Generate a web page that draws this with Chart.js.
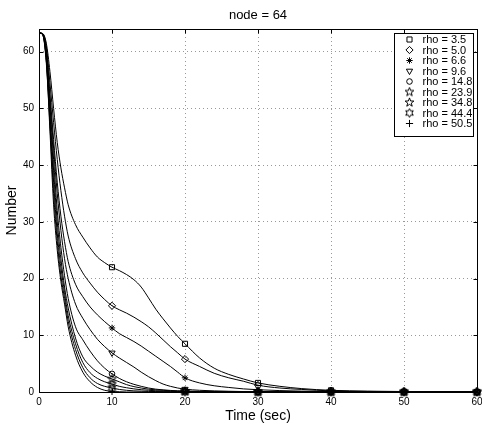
<!DOCTYPE html>
<html>
<head>
<meta charset="utf-8">
<script src="https://cdn.jsdelivr.net/npm/chart.js@4.4.1/dist/chart.umd.min.js"></script>
<style>
  html, body { margin: 0; padding: 0; background: #fff; }
  canvas { display: block; }
</style>
</head>
<body>
<canvas id="decayChart" width="482" height="425"></canvas>
<script>
// Data
const timeSec = [0, 0.5, 1, 1.5, 2, 2.5, 3, 3.5, 4, 5, 6, 7, 8, 9, 10, 11, 12, 13, 14, 15, 16, 17, 18, 19, 20, 22, 24, 26, 28, 30, 33, 36, 40, 45, 50, 55, 60];

const rho35  = [63.3, 63.2, 61.5, 56.5, 50, 44, 39.5, 36, 33, 29.5, 27.3, 25.4, 23.8, 22.8, 22.0, 21.4, 20.7, 19.8, 18.5, 16.6, 14.6, 12.9, 11.3, 9.8, 8.5, 6.0, 4.2, 3.1, 2.3, 1.6, 1.0, 0.6, 0.3, 0.15, 0.08, 0.04, 0.02];
const rho50  = [63.3, 63.2, 61, 54.5, 47.5, 41, 35.5, 31, 27.5, 23.5, 21, 19.2, 17.6, 16.3, 15.2, 14.5, 13.9, 13.2, 12.4, 11.5, 10.4, 9.2, 8.0, 6.9, 5.8, 4.5, 3.3, 2.5, 1.9, 1.2, 0.7, 0.45, 0.2, 0.1, 0.05, 0.02, 0];
const rho66  = [63.3, 63.1, 60.5, 52.5, 44.5, 37, 31, 26.5, 23, 19, 16.8, 15, 13.6, 12.4, 11.3, 10.3, 9.6, 8.9, 8.1, 7.2, 6.3, 5.4, 4.5, 3.5, 2.5, 1.6, 1.1, 0.8, 0.55, 0.4, 0.25, 0.15, 0.1, 0.05, 0.02, 0.01, 0];
const rho96  = [63.3, 63.1, 60, 51.5, 43, 35, 28.5, 23.5, 20, 15.5, 13, 11, 9.3, 8.0, 6.9, 6.0, 5.2, 4.4, 3.5, 2.7, 2.0, 1.4, 1.0, 0.7, 0.5, 0.3, 0.2, 0.13, 0.08, 0.05, 0.03, 0.02, 0.01, 0, 0, 0, 0];
const rho148 = [63.3, 63.1, 59.5, 50.5, 41, 32, 25.5, 20.5, 16.5, 11.5, 9.2, 7.2, 5.5, 4.2, 3.2, 2.4, 1.8, 1.35, 1.0, 0.7, 0.5, 0.38, 0.28, 0.2, 0.15, 0.1, 0.07, 0.05, 0.03, 0.02, 0.01, 0, 0, 0, 0, 0, 0];
const rho239 = [63.3, 63.1, 59, 49, 39, 30, 23.5, 18.5, 14.8, 9.5, 6.2, 4.6, 3.5, 2.8, 2.3, 1.8, 1.3, 0.95, 0.7, 0.5, 0.38, 0.3, 0.22, 0.17, 0.13, 0.08, 0.05, 0.03, 0.02, 0.01, 0, 0, 0, 0, 0, 0, 0];
const rho348 = [63.3, 63, 58.5, 48, 37, 28, 22, 17.5, 13.5, 8.5, 5.2, 3.4, 2.4, 1.8, 1.4, 1.0, 0.75, 0.55, 0.4, 0.3, 0.22, 0.17, 0.13, 0.1, 0.08, 0.05, 0.03, 0.02, 0.01, 0, 0, 0, 0, 0, 0, 0, 0];
const rho444 = [63.3, 63, 58, 47, 35, 26.5, 20.5, 16.5, 12.5, 7.5, 4.3, 2.5, 1.5, 1.0, 0.7, 0.45, 0.3, 0.2, 0.15, 0.1, 0.08, 0.06, 0.05, 0.04, 0.03, 0.02, 0.01, 0, 0, 0, 0, 0, 0, 0, 0, 0, 0];
const rho505 = [63.3, 63, 58.5, 46, 33, 25, 19.5, 15.5, 11.5, 6.5, 3.5, 1.8, 0.8, 0.3, 0.1, 0.05, 0, 0, 0, 0, 0, 0, 0, 0, 0, 0, 0, 0, 0, 0, 0, 0, 0, 0, 0, 0, 0];

const seriesLabels = ['rho = 3.5', 'rho = 5.0', 'rho = 6.6', 'rho = 9.6', 'rho = 14.8', 'rho = 23.9', 'rho = 34.8', 'rho = 44.4', 'rho = 50.5'];
const seriesValues = [rho35, rho50, rho66, rho96, rho148, rho239, rho348, rho444, rho505];
const xTicks = [0, 10, 20, 30, 40, 50, 60];
const yTicks = [0, 10, 20, 30, 40, 50, 60];

const FONT = '"Liberation Sans", Arial, Helvetica, sans-serif';

// star-shaped markers (matlab 'p' and 'h') drawn on small canvases
function starMarker(points, outer, inner) {
    const c = document.createElement('canvas');
    c.width = 11; c.height = 11;
    const g = c.getContext('2d');
    g.strokeStyle = '#000';
    g.lineWidth = 1;
    g.beginPath();
    for (let i = 0; i < points * 2; i++) {
        const r = i % 2 === 0 ? outer : inner;
        const a = -Math.PI / 2 + i * Math.PI / points;
        const x = 5.5 + r * Math.cos(a), y = 5.5 + r * Math.sin(a);
        if (i === 0) g.moveTo(x, y); else g.lineTo(x, y);
    }
    g.closePath();
    g.stroke();
    return c;
}
const pentagram = starMarker(5, 4.6, 1.9);
const hexagram = starMarker(6, 4.4, 2.4);

const markers = [
    { style: 'rect', r: 3.6, rot: 0 },
    { style: 'rectRot', r: 3.6, rot: 0 },
    { style: 'star', r: 3.2, rot: 0 },
    { style: 'triangle', r: 3.6, rot: 180 },
    { style: 'circle', r: 2.8, rot: 0 },
    { style: pentagram, r: 3, rot: 0 },
    { style: pentagram, r: 3, rot: 0 },
    { style: hexagram, r: 3, rot: 0 },
    { style: 'cross', r: 3.6, rot: 0 }
];

const datasets = seriesValues.map((vals, i) => ({
    label: seriesLabels[i],
    data: vals.map((v, k) => ({ x: timeSec[k], y: v })),
    borderColor: '#000',
    borderWidth: 1,
    backgroundColor: 'rgba(0,0,0,0)',
    cubicInterpolationMode: 'monotone',
    pointStyle: markers[i].style,
    pointRotation: markers[i].rot,
    pointBorderColor: '#000',
    pointBackgroundColor: 'rgba(0,0,0,0)',
    pointBorderWidth: 1,
    pointRadius: ctx => (ctx.raw && ctx.raw.x > 0 && ctx.raw.x % 10 === 0) ? markers[i].r : 0,
    pointHoverRadius: 0,
    clip: false
}));

// frame, inward ticks, title and legend box (matlab look)
const matlabFrame = {
    id: 'matlabFrame',
    afterDraw(chart) {
        const ctx = chart.ctx;
        const a = chart.chartArea;
        const xs = chart.scales.x, ys = chart.scales.y;
        const L = Math.round(a.left) + 0.5, R = Math.round(a.right) + 0.5;
        const T = Math.round(a.top) + 0.5, B = Math.round(a.bottom) + 0.5;
        ctx.save();
        ctx.strokeStyle = '#000';
        ctx.lineWidth = 1;
        ctx.strokeRect(L, T, R - L, B - T);
        const tl = 4;
        ctx.beginPath();
        xTicks.forEach(v => {
            const px = Math.round(xs.getPixelForValue(v)) + 0.5;
            ctx.moveTo(px, B); ctx.lineTo(px, B - tl);
            ctx.moveTo(px, T); ctx.lineTo(px, T + tl);
        });
        yTicks.forEach(v => {
            const py = Math.round(ys.getPixelForValue(v)) + 0.5;
            ctx.moveTo(L, py); ctx.lineTo(L + tl, py);
            ctx.moveTo(R, py); ctx.lineTo(R - tl, py);
        });
        ctx.stroke();

        // title
        ctx.fillStyle = '#000';
        ctx.font = '13px ' + FONT;
        ctx.textAlign = 'center';
        ctx.textBaseline = 'middle';
        ctx.fillText('node = 64', (a.left + a.right) / 2, 15);

        // legend
        const boxR = R - 4, boxL = R - 83, boxT = T + 4;
        const rowH = 10.5;
        const boxH = 103;
        ctx.fillStyle = '#fff';
        ctx.fillRect(boxL, boxT, boxR - boxL, boxH);
        ctx.strokeRect(boxL, boxT, boxR - boxL, boxH);
        ctx.font = '11px ' + FONT;
        ctx.textAlign = 'left';
        seriesLabels.forEach((lab, i) => {
            const y = boxT + 6 + i * rowH;
            ctx.strokeStyle = '#000';
            ctx.fillStyle = 'rgba(0,0,0,0)';
            ctx.lineWidth = 1;
            if (Chart.helpers && Chart.helpers.drawPoint) {
                Chart.helpers.drawPoint(ctx, {
                    pointStyle: markers[i].style,
                    radius: markers[i].r,
                    rotation: markers[i].rot,
                    borderWidth: 1
                }, boxL + 15, y);
            }
            ctx.fillStyle = '#000';
            ctx.fillText(lab, boxL + 28, y + 0.5);
        });
        ctx.restore();
    }
};

new Chart(document.getElementById('decayChart'), {
    type: 'line',
    data: { datasets: datasets },
    options: {
        responsive: false,
        animation: false,
        events: [],
        layout: { padding: { top: 29, right: 5, left: 0, bottom: 0 } },
        plugins: {
            legend: { display: false },
            title: { display: false },
            tooltip: { enabled: false }
        },
        scales: {
            x: {
                type: 'linear',
                min: 0,
                max: 60,
                afterBuildTicks: s => { s.ticks = xTicks.map(v => ({ value: v })); },
                afterFit: s => { s.height = 33; s.paddingLeft = 0; s.paddingRight = 0; },
                ticks: { color: '#000', font: { family: FONT, size: 10 }, padding: 4, maxRotation: 0 },
                grid: { color: '#999', drawTicks: false, lineWidth: 1 },
                border: { display: false, dash: [1, 3] },
                title: { display: true, text: 'Time (sec)', color: '#000', font: { family: FONT, size: 14 }, padding: { top: 0, bottom: 0 } }
            },
            y: {
                type: 'linear',
                min: 0,
                max: 64,
                afterBuildTicks: s => { s.ticks = yTicks.map(v => ({ value: v })); },
                afterFit: s => { s.width = 39; },
                ticks: { color: '#000', font: { family: FONT, size: 10 }, padding: 5 },
                grid: { color: '#999', drawTicks: false, lineWidth: 1 },
                border: { display: false, dash: [1, 3] },
                title: { display: true, text: 'Number', color: '#000', font: { family: FONT, size: 14 }, padding: { top: 4, bottom: 0 } }
            }
        }
    },
    plugins: [matlabFrame]
});
</script>
</body>
</html>
